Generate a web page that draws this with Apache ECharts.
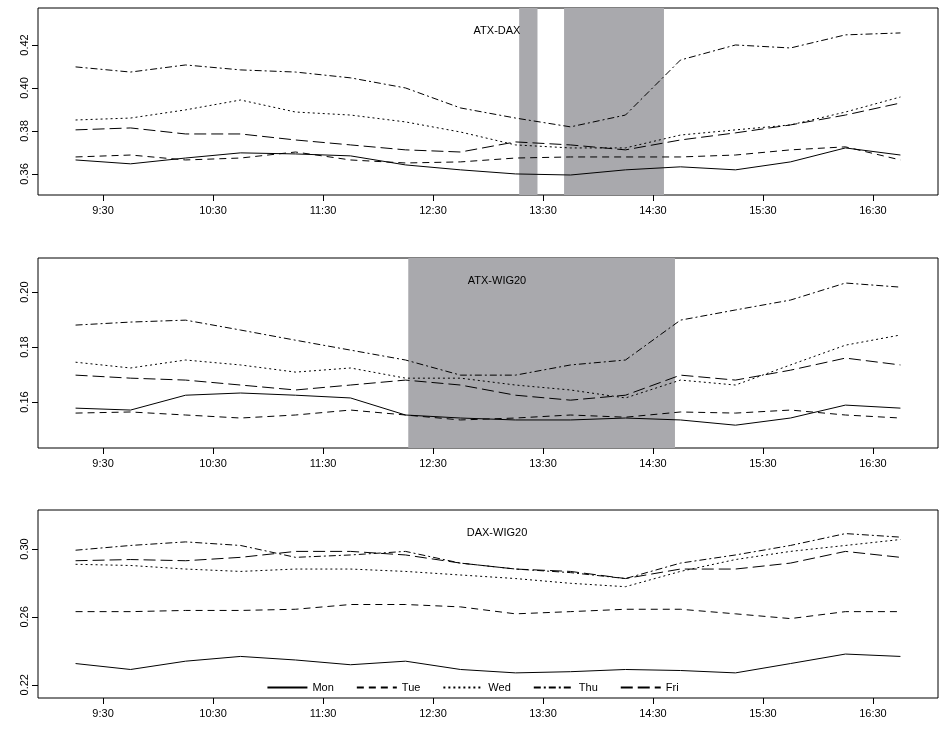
<!DOCTYPE html>
<html lang="en">
<head>
<meta charset="UTF-8">
<title>Correlations by weekday</title>
<script src="https://cdn.jsdelivr.net/npm/echarts@6/dist/echarts.min.js"></script>
<style>html,body{margin:0;background:#fff}</style>
</head>
<body>
<div id="main" style="width:945px;height:729px;"></div>
<script>
// time in minutes after midnight, every 30 min from 9:15 to 16:45
var times = [555, 585, 615, 645, 675, 705, 735, 765, 795, 825, 855, 885, 915, 945, 975, 1005];
var days = ['Mon', 'Tue', 'Wed', 'Thu', 'Fri'];
var xTicks = [570, 630, 690, 750, 810, 870, 930, 990];

var atxDax = {
  Mon: [0.3665,0.3647,0.3674,0.3698,0.3693,0.3684,0.3642,0.3619,0.360,0.3595,0.3619,0.3633,0.3619,0.3656,0.3721,0.3688],
  Tue: [0.3679,0.3688,0.3665,0.3674,0.3702,0.3665,0.3651,0.3656,0.3674,0.3679,0.3679,0.3679,0.3688,0.3712,0.3726,0.3665],
  Wed: [0.3851,0.386,0.3898,0.3944,0.3888,0.3874,0.3842,0.3795,0.3735,0.3721,0.3721,0.3781,0.3805,0.3828,0.3888,0.3958],
  Thu: [0.4098,0.4074,0.4107,0.4084,0.4074,0.4047,0.40,0.3907,0.3860,0.3819,0.3874,0.4130,0.42,0.4186,0.4247,0.4256],
  Fri: [0.3805,0.3814,0.3786,0.3786,0.3758,0.3735,0.3712,0.3702,0.3749,0.3735,0.3712,0.3758,0.3791,0.3828,0.3874,0.393]
};
var atxWig = {
  Mon: [0.1578,0.1571,0.1625,0.1633,0.1625,0.1615,0.1553,0.1542,0.1535,0.1535,0.1542,0.1535,0.1516,0.1542,0.1589,0.1578],
  Tue: [0.156,0.1564,0.1553,0.1542,0.1553,0.1571,0.1553,0.1535,0.1542,0.1553,0.1545,0.1564,0.156,0.1571,0.1553,0.1542],
  Wed: [0.1745,0.1724,0.1753,0.1735,0.1709,0.1724,0.1687,0.1687,0.1662,0.1644,0.1615,0.168,0.1662,0.1735,0.1807,0.1844],
  Thu: [0.188,0.1891,0.1898,0.1862,0.1825,0.1789,0.1753,0.1698,0.1698,0.1735,0.1753,0.1898,0.1935,0.1971,0.2033,0.2018],
  Fri: [0.1698,0.1687,0.168,0.1662,0.1644,0.1662,0.168,0.1662,0.1625,0.1607,0.1625,0.1698,0.168,0.1716,0.176,0.1735]
};
var daxWig = {
  Mon: [0.2325,0.229,0.2339,0.2367,0.2346,0.2318,0.2339,0.229,0.227,0.2277,0.229,0.2284,0.227,0.2325,0.2381,0.2367],
  Tue: [0.2631,0.2631,0.2638,0.2638,0.2645,0.2673,0.2673,0.2659,0.2618,0.2631,0.2645,0.2645,0.2618,0.259,0.2631,0.2631],
  Wed: [0.291,0.2903,0.2882,0.2868,0.2882,0.2882,0.2868,0.2847,0.2826,0.2798,0.2778,0.2868,0.2938,0.2986,0.3021,0.3056],
  Thu: [0.2993,0.3021,0.3042,0.3021,0.2951,0.2965,0.2986,0.2917,0.2882,0.2861,0.2826,0.2917,0.2965,0.3021,0.3091,0.307],
  Fri: [0.2931,0.2938,0.2931,0.2951,0.2986,0.2986,0.2965,0.2917,0.2882,0.2868,0.2826,0.2882,0.2882,0.2917,0.2986,0.2951]
};
var panels = [
  { title: 'ATX-DAX', data: atxDax, yTicks: [0.36, 0.38, 0.40, 0.42], yMin: 0.3502, yMax: 0.4372,
    shade: [[797, 807], [821.5, 876]] },
  { title: 'ATX-WIG20', data: atxWig, yTicks: [0.16, 0.18, 0.20], yMin: 0.1433, yMax: 0.2124,
    shade: [[736.5, 882]] },
  { title: 'DAX-WIG20', data: daxWig, yTicks: [0.22, 0.26, 0.30], yMin: 0.2122, yMax: 0.323,
    shade: [] }
];
var dashes = { Mon: 'solid', Tue: [7, 5], Wed: [2, 3], Thu: [7, 3, 2, 3], Fri: [12, 5] };

var tops = [8, 258, 510];
var heights = [187, 190, 188];
var font = 'Liberation Sans, Arial, sans-serif';

var grid = [], xAxis = [], yAxis = [], series = [], title = [];
panels.forEach(function (p, i) {
  grid.push({ left: 38, width: 900, top: tops[i], height: heights[i], show: true,
    borderColor: '#000', borderWidth: 1, backgroundColor: 'transparent' });
  xAxis.push({ type: 'value', gridIndex: i, min: 534.5, max: 1025.5,
    axisLine: { show: false }, splitLine: { show: false },
    axisTick: { show: true, inside: false, length: 6, lineStyle: { color: '#000' }, customValues: xTicks },
    axisLabel: { color: '#000', fontSize: 11, fontFamily: font, margin: 10, customValues: xTicks,
      formatter: function (v) { var m = v % 60; return Math.floor(v / 60) + ':' + (m < 10 ? '0' : '') + m; } }
  });
  yAxis.push({ type: 'value', gridIndex: i, min: p.yMin, max: p.yMax,
    axisLine: { show: false }, splitLine: { show: false },
    axisTick: { show: true, inside: false, length: 6, lineStyle: { color: '#000' }, customValues: p.yTicks },
    axisLabel: { color: '#000', fontSize: 11, fontFamily: font, rotate: 90, margin: 8, customValues: p.yTicks,
      formatter: function (v) { return v.toFixed(2); } }
  });
  title.push({ text: p.title, left: 492, top: tops[i] + 12, textAlign: 'center',
    textStyle: { fontSize: 11, fontWeight: 'normal', color: '#000', fontFamily: font } });
  days.forEach(function (d, k) {
    var s = {
      name: d, type: 'line', xAxisIndex: i, yAxisIndex: i, symbol: 'none', z: 3,
      data: times.map(function (t, j) { return [t, p.data[d][j]]; }),
      lineStyle: { color: '#000', width: 1, type: dashes[d] },
      itemStyle: { color: '#000' }
    };
    if (k === 0 && p.shade.length) {
      s.markArea = { silent: true, itemStyle: { color: '#a9a9ad' },
        data: p.shade.map(function (r) { return [{ xAxis: r[0] }, { xAxis: r[1] }]; }) };
    }
    series.push(s);
  });
});

var chart = echarts.init(document.getElementById('main'));
chart.setOption({
  backgroundColor: '#fff',
  animation: false,
  title: title,
  legend: { data: days, top: 677, left: 'center', itemWidth: 40, itemHeight: 10, itemGap: 22,
    itemStyle: { opacity: 0 },
    textStyle: { fontSize: 11, color: '#000', fontFamily: font } },
  grid: grid,
  xAxis: xAxis,
  yAxis: yAxis,
  series: series
});
</script>
</body>
</html>
